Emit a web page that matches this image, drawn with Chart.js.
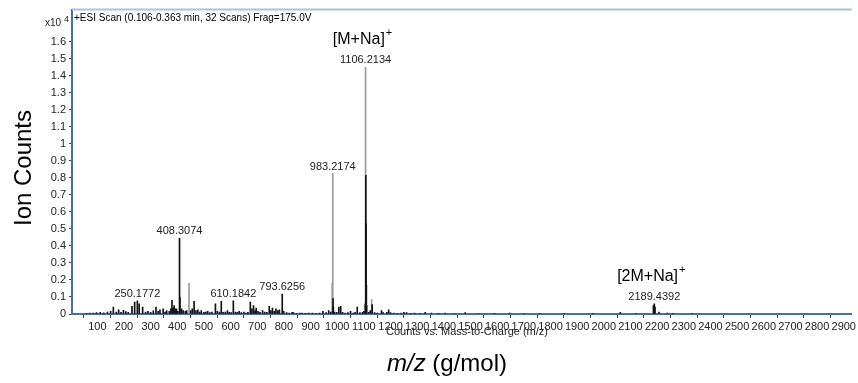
<!DOCTYPE html>
<html>
<head>
<meta charset="utf-8">
<script src="https://cdn.jsdelivr.net/npm/chart.js@4.4.0/dist/chart.umd.min.js"></script>
<style>
  html, body { margin: 0; padding: 0; background: #fff; }
  #wrap { width: 858px; height: 383px; position: relative; }
</style>
</head>
<body>
<div id="wrap"><canvas id="spectrum"></canvas></div>
<script>
// profile sticks (drawn black), counts in units of 10^4
const mzProfile = [60, 72, 85, 97, 111, 124, 138, 150, 160, 171, 180, 189, 198, 207, 216, 230, 240, 250.1772, 257, 270,
  281, 290, 300, 310, 320, 328, 335, 347, 354, 360, 370, 376, 380, 384, 388, 392, 397, 402, 408.3074, 410,
  416, 422, 430, 435, 450, 456, 463, 470, 477, 484, 490, 500, 507, 514, 522, 530, 543, 550, 558, 565,
  572, 580, 588, 595, 602, 610.1842, 618, 625, 632, 640, 650, 658, 665, 674, 680, 686, 692, 696, 703, 710,
  720, 728, 736, 745, 751, 757, 764, 770, 777, 783, 793.6256, 799, 810, 820, 831, 836, 848, 860, 868, 880,
  893, 907, 920, 934, 946, 958, 968, 976, 984.2, 985.2, 990, 998, 1006, 1013, 1020, 1030, 1040, 1050, 1060, 1067,
  1075, 1085, 1095, 1100, 1105.2, 1107.2, 1108.2, 1109.2, 1110.2, 1118, 1124, 1131, 1140, 1150, 1166, 1172, 1186, 1193, 1200, 1212,
  1225, 1240, 1250, 1260, 1275, 1290, 1310, 1330, 1353, 1380, 1405, 1440, 1480, 1530, 1590, 1647, 1700, 1760, 1850, 1960,
  2062, 2120, 2186, 2189.4392, 2192, 2207, 2238, 2260, 2330];
const countsProfile = [0.004, 0.006, 0.005, 0.008, 0.01, 0.007, 0.012, 0.015, 0.04, 0.012, 0.025, 0.01, 0.022, 0.014, 0.01, 0.045, 0.07, 0.078, 0.06, 0.04,
  0.012, 0.015, 0.01, 0.018, 0.04, 0.015, 0.025, 0.03, 0.012, 0.02, 0.015, 0.03, 0.08, 0.035, 0.05, 0.03, 0.03, 0.015, 0.445, 0.1,
  0.03, 0.02, 0.015, 0.02, 0.02, 0.03, 0.075, 0.02, 0.025, 0.012, 0.02, 0.01, 0.012, 0.015, 0.008, 0.012, 0.06, 0.015, 0.012, 0.075,
  0.01, 0.012, 0.02, 0.01, 0.008, 0.078, 0.012, 0.01, 0.015, 0.008, 0.012, 0.006, 0.01, 0.07, 0.03, 0.05, 0.02, 0.035, 0.015, 0.01,
  0.02, 0.012, 0.01, 0.045, 0.02, 0.035, 0.015, 0.03, 0.02, 0.025, 0.117, 0.015, 0.008, 0.006, 0.01, 0.008, 0.004, 0.005, 0.005, 0.004,
  0.006, 0.005, 0.004, 0.006, 0.015, 0.008, 0.02, 0.012, 0.09, 0.04, 0.012, 0.01, 0.04, 0.045, 0.01, 0.006, 0.008, 0.015, 0.006, 0.01,
  0.04, 0.008, 0.01, 0.015, 0.06, 0.815, 0.53, 0.17, 0.05, 0.01, 0.02, 0.055, 0.008, 0.006, 0.02, 0.008, 0.01, 0.025, 0.008, 0.005,
  0.004, 0.006, 0.01, 0.008, 0.004, 0.005, 0.004, 0.01, 0.005, 0.004, 0.005, 0.003, 0.008, 0.003, 0.004, 0.006, 0.003, 0.002, 0.002, 0.002,
  0.01, 0.002, 0.05, 0.06, 0.04, 0.012, 0.005, 0.004, 0.002];

// thin apex sticks (drawn grey)
const mzApex = [444, 981, 983.2174, 1106.2134, 1129];
const countsApex = [0.18, 0.18, 0.826, 1.45, 0.085];

const peakLabels = ['250.1772', '408.3074', '610.1842', '793.6256', '983.2174', '1106.2134', '2189.4392'];
const peakLabelMz = [250.1772, 408.3074, 610.1842, 793.6256, 983.2174, 1106.2134, 2189.4392];
const adductLabels = ['[M+Na]', '[2M+Na]'];
const adductMz = [1106.2134, 2189.4392];

const xTicks = [100, 200, 300, 400, 500, 600, 700, 800, 900, 1000, 1100, 1200, 1300, 1400, 1500,
  1600, 1700, 1800, 1900, 2000, 2100, 2200, 2300, 2400, 2500, 2600, 2700, 2800, 2900];
const yTicks = [0, 0.1, 0.2, 0.3, 0.4, 0.5, 0.6, 0.7, 0.8, 0.9, 1, 1.1, 1.2, 1.3, 1.4, 1.5, 1.6];

const narrow = '"Liberation Sans Narrow", "Liberation Sans", Arial, sans-serif';
const sans = '"Liberation Sans", Arial, sans-serif';

function countAt(mz) {
  let best = 0;
  mzProfile.forEach((m, i) => { if (m === mz) best = Math.max(best, countsProfile[i]); });
  mzApex.forEach((m, i) => { if (m === mz) best = Math.max(best, countsApex[i]); });
  return best;
}

const textPlugin = {
  id: 'msText',
  afterDraw(chart) {
    const ctx = chart.ctx;
    const area = chart.chartArea;
    const xs = chart.scales.x;
    const ys = chart.scales.y;
    ctx.save();

    // top frame line
    ctx.strokeStyle = '#a9c1e6';
    ctx.lineWidth = 2;
    ctx.beginPath();
    ctx.moveTo(area.left, area.top);
    ctx.lineTo(area.right, area.top);
    ctx.stroke();

    ctx.fillStyle = '#000';
    ctx.textBaseline = 'middle';
    ctx.textAlign = 'left';
    ctx.font = '10px ' + sans;
    ctx.fillText('+ESI Scan (0.106-0.363 min, 32 Scans) Frag=175.0V', area.left + 2, 18);

    // exponent marker
    ctx.textBaseline = 'alphabetic';
    ctx.textAlign = 'right';
    ctx.font = '10px ' + narrow;
    ctx.fillStyle = '#222';
    ctx.fillText('x10', 61, 26);
    ctx.textAlign = 'left';
    ctx.font = '9px ' + narrow;
    ctx.fillText('4', 64, 22);

    // peak m/z labels
    ctx.textAlign = 'center';
    ctx.textBaseline = 'middle';
    ctx.font = '11px ' + narrow;
    ctx.fillStyle = '#222';
    peakLabels.forEach((t, i) => {
      const px = xs.getPixelForValue(peakLabelMz[i]);
      const py = ys.getPixelForValue(countAt(peakLabelMz[i]));
      ctx.fillText(t, px, py - 7);
    });

    // adduct labels
    adductLabels.forEach((t, i) => {
      const px = xs.getPixelForValue(adductMz[i]);
      const py = ys.getPixelForValue(countAt(adductMz[i])) - 7 - 16;
      ctx.font = '16px ' + sans;
      const w = ctx.measureText(t).width;
      ctx.font = '11px ' + sans;
      const ws = ctx.measureText('+').width;
      const left = px - 3 - (w + ws + 1) / 2;
      ctx.textAlign = 'left';
      ctx.textBaseline = 'alphabetic';
      ctx.fillStyle = '#000';
      ctx.font = '16px ' + sans;
      ctx.fillText(t, left, py);
      ctx.font = '11px ' + sans;
      ctx.fillText('+', left + w + 1, py - 8);
    });

    // small axis caption
    ctx.textAlign = 'center';
    ctx.textBaseline = 'middle';
    ctx.fillStyle = '#222';
    ctx.font = '11px ' + narrow;
    ctx.fillText('Counts vs. Mass-to-Charge (m/z)', 467, 332);

    // big x title: italic m/z + normal (g/mol)
    ctx.fillStyle = '#000';
    ctx.font = 'italic 24px ' + sans;
    const w1 = ctx.measureText('m/z').width;
    ctx.font = '24px ' + sans;
    const w2 = ctx.measureText(' (g/mol)').width;
    const startX = 447 - (w1 + w2) / 2;
    ctx.textAlign = 'left';
    ctx.font = 'italic 24px ' + sans;
    ctx.fillText('m/z', startX, 364);
    ctx.font = '24px ' + sans;
    ctx.fillText(' (g/mol)', startX + w1, 364);

    // y title
    ctx.translate(24, 168);
    ctx.rotate(-Math.PI / 2);
    ctx.textAlign = 'center';
    ctx.fillText('Ion Counts', 0, 0);
    ctx.restore();
  }
};

new Chart(document.getElementById('spectrum'), {
  type: 'bar',
  data: {
    datasets: [
      {
        label: 'profile',
        data: mzProfile.map((m, i) => ({ x: m, y: countsProfile[i] })),
        backgroundColor: '#111',
        barThickness: 1
      },
      {
        label: 'apex',
        data: mzApex.map((m, i) => ({ x: m, y: countsApex[i] })),
        backgroundColor: '#9a9a9a',
        barThickness: 1
      }
    ]
  },
  options: {
    responsive: true,
    maintainAspectRatio: false,
    animation: false,
    layout: { padding: { top: 9, right: 2, left: 0, bottom: 0 } },
    datasets: { bar: { grouped: false } },
    plugins: {
      legend: { display: false },
      tooltip: { enabled: false }
    },
    scales: {
      x: {
        type: 'linear',
        min: 5,
        max: 2930,
        offset: false,
        afterBuildTicks: (s) => { s.ticks = xTicks.map(v => ({ value: v })); },
        afterFit: (s) => { s.height = 69; },
        grid: { drawOnChartArea: false, drawTicks: true, tickLength: 4, color: '#444' },
        border: { display: true, color: '#4a6db0', width: 2 },
        ticks: {
          maxRotation: 0,
          autoSkip: false,
          padding: 2,
          color: '#222',
          font: { family: narrow, size: 11 },
          callback: (v) => String(v)
        }
      },
      y: {
        min: 0,
        max: 1.79,
        afterBuildTicks: (s) => { s.ticks = yTicks.map(v => ({ value: v })); },
        afterFit: (s) => { s.width = 72; },
        grid: { drawOnChartArea: false, drawTicks: true, tickLength: 3, color: '#444' },
        border: { display: true, color: '#4a6db0', width: 2 },
        ticks: {
          autoSkip: false,
          padding: 3,
          color: '#222',
          font: { family: narrow, size: 11 },
          callback: (v) => String(Math.round(v * 10) / 10)
        }
      }
    }
  },
  plugins: [textPlugin]
});
</script>
</body>
</html>
